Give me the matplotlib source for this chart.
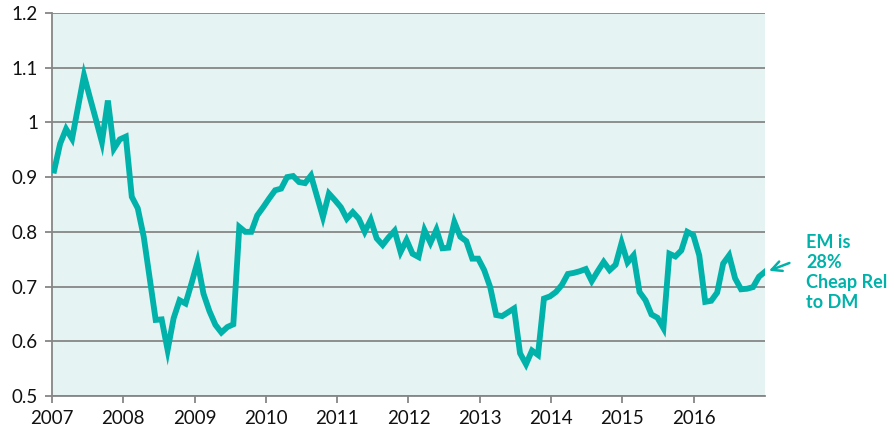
import numpy as np
import matplotlib
matplotlib.use('Agg')
from matplotlib import pyplot as plt

# monthly EM vs DM relative valuation, Jan 2007 - Dec 2016
ratio = [
	0.912, 0.961, 0.988, 0.970, 1.028, 1.086, 1.045, 1.005, 0.964, 1.040, 0.952, 0.969,  # 2007
	0.974, 0.864, 0.843, 0.791, 0.715, 0.639, 0.640, 0.584, 0.642, 0.675, 0.669, 0.706,  # 2008
	0.745, 0.687, 0.655, 0.630, 0.616, 0.626, 0.631, 0.809, 0.800, 0.800, 0.830, 0.845,  # 2009
	0.861, 0.876, 0.879, 0.900, 0.902, 0.891, 0.889, 0.903, 0.865, 0.827, 0.870, 0.858,  # 2010
	0.845, 0.824, 0.836, 0.824, 0.800, 0.822, 0.788, 0.776, 0.790, 0.802, 0.763, 0.785,  # 2011
	0.760, 0.754, 0.803, 0.780, 0.804, 0.770, 0.771, 0.818, 0.791, 0.783, 0.751, 0.751,  # 2012
	0.730, 0.699, 0.648, 0.646, 0.653, 0.660, 0.578, 0.558, 0.583, 0.575, 0.678, 0.682,  # 2013
	0.690, 0.703, 0.723, 0.725, 0.728, 0.732, 0.710, 0.728, 0.745, 0.730, 0.740, 0.780,  # 2014
	0.744, 0.757, 0.690, 0.675, 0.649, 0.643, 0.624, 0.760, 0.755, 0.766, 0.800, 0.794,  # 2015
	0.757, 0.672, 0.674, 0.689, 0.742, 0.757, 0.715, 0.695, 0.696, 0.699, 0.718, 0.727,  # 2016
]
years = list(range(2007, 2017))
yticks = [0.5, 0.6, 0.7, 0.8, 0.9, 1, 1.1, 1.2]
ytick_labels = ['0.5', '0.6', '0.7', '0.8', '0.9', '1', '1.1', '1.2']
note = 'EM is\n28%\nCheap Rel\nto DM'

teal = '#00B2AA'
grey = '#868686'

plt.rcParams['font.family'] = ['Lato', 'DejaVu Sans']

fig = plt.figure(figsize=(8.95, 4.33), dpi=100)
ax = fig.add_axes([0.0581, 0.0855, 0.7966, 0.8845])
ax.set_facecolor('#E5F3F2')

x = np.linspace(2007.03, 2017.0, len(ratio))
ax.plot(x, ratio, color=teal, lw=4.2, solid_joinstyle='miter', zorder=3)

ax.set_xlim(2007, 2017)
ax.set_ylim(0.5, 1.2)
ax.set_yticks(yticks)
ax.set_yticklabels(ytick_labels)
ax.set_xticks(years)
ax.set_xticklabels([str(y) for y in years])

ax.grid(axis='y', color=grey, lw=1.3, zorder=1)
for s in ['top', 'right']:
	ax.spines[s].set_visible(False)
for s in ['left', 'bottom']:
	ax.spines[s].set_color(grey)
	ax.spines[s].set_linewidth(1.3)
ax.tick_params(axis='both', colors=grey, length=5, width=1.3, labelsize=13.5, labelcolor='#111111')
ax.tick_params(axis='x', pad=5)
ax.tick_params(axis='y', pad=5)

# note on the right with an arrow pointing to the last point
ax.annotate(note, xy=(x[-1], ratio[-1]), xycoords='data',
	xytext=(806, 433 - 234), textcoords='figure pixels',
	ha='left', va='top', fontsize=13, fontweight='bold', color=teal, linespacing=1.22,
	annotation_clip=False)
ax.annotate('', xy=(x[-1] + 0.02, ratio[-1]), xycoords='data',
	xytext=(792, 433 - 262), textcoords='figure pixels',
	arrowprops=dict(arrowstyle='->', color=teal, lw=1.8, mutation_scale=18),
	annotation_clip=False)

fig.savefig('out.png', dpi=100)
